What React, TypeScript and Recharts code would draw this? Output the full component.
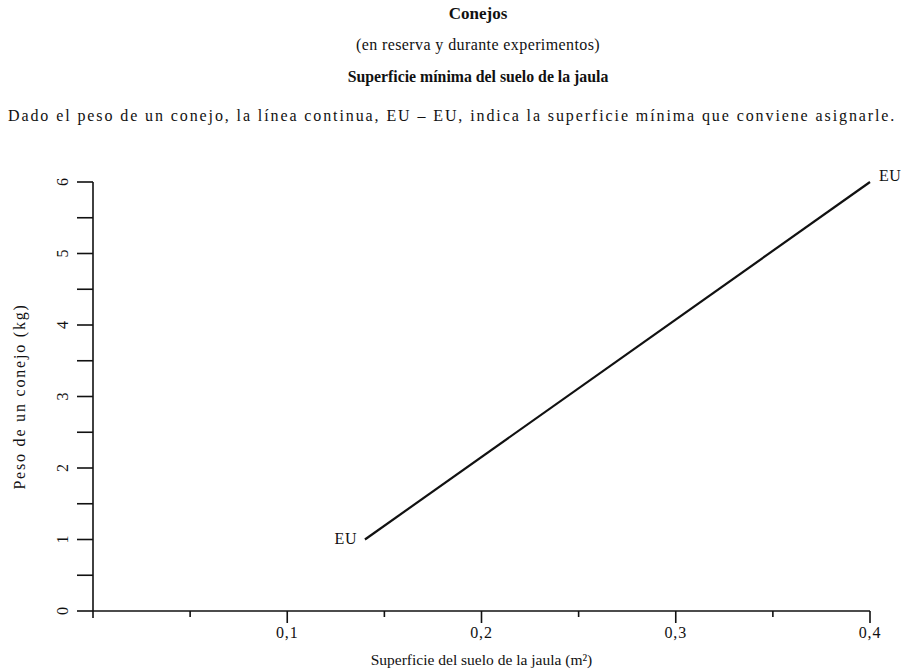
import React from "react";
import { ComposedChart, Line, XAxis, YAxis, LabelList } from "recharts";

const xTicks = [0, 0.05, 0.1, 0.15, 0.2, 0.25, 0.3, 0.35, 0.4];
const xLabeled = [0.1, 0.2, 0.3, 0.4];
const yTicks = [0, 0.5, 1, 1.5, 2, 2.5, 3, 3.5, 4, 4.5, 5, 5.5, 6];
const yLabeled = [0, 1, 2, 3, 4, 5, 6];
const surface = [0.14, 0.4];
const weight = [1, 6];
const endLabels = ["EU", "EU"];

const data = surface.map((s, i) => ({ s, w: weight[i], lab: endLabels[i] }));

const FONT = "'Liberation Serif', 'DejaVu Serif', serif";

const XTick = (props: any) => {
  const { x, y, payload } = props;
  const v = payload.value;
  const major = xLabeled.includes(v) || v === 0;
  const len = v === 0 ? 7 : major ? 12 : 6;
  return (
    <g>
      <line x1={x} y1={y} x2={x} y2={y + len} stroke="#111" strokeWidth={1.6} />
      {xLabeled.includes(v) && (
        <text x={x} y={y + 27} textAnchor="middle" fontFamily={FONT} fontSize={16} letterSpacing={0.8} fill="#111">
          {String(v).replace(".", ",")}
        </text>
      )}
    </g>
  );
};

const YTick = (props: any) => {
  const { x, y, payload } = props;
  const v = payload.value;
  return (
    <g>
      <line x1={x - 16} y1={y} x2={x} y2={y} stroke="#111" strokeWidth={1.6} />
      {yLabeled.includes(v) && (
        <text
          x={x - 31}
          y={y}
          textAnchor="middle"
          dominantBaseline="central"
          fontFamily={FONT}
          fontSize={16}
          fill="#111"
          transform={`rotate(-90 ${x - 31} ${y})`}
        >
          {v}
        </text>
      )}
    </g>
  );
};

const EndLabel = (props: any) => {
  const { x, y, index, value } = props;
  if (index === 0) {
    return (
      <text x={x - 8} y={y + 4} textAnchor="end" fontFamily={FONT} fontSize={16} letterSpacing={0.5} fill="#111">
        {value}
      </text>
    );
  }
  return (
    <text x={x + 9} y={y - 1} textAnchor="start" fontFamily={FONT} fontSize={16} letterSpacing={0.5} fill="#111">
      {value}
    </text>
  );
};

export default function App() {
  return (
    <div style={{ position: "absolute", left: 0, top: 0, width: 911, height: 672, background: "#fff", fontFamily: FONT, color: "#111" }}>
      <div style={{ position: "absolute", top: 4, left: 0, width: 956, textAlign: "center", fontSize: 17, fontWeight: "bold" }}>
        Conejos
      </div>
      <div style={{ position: "absolute", top: 36, left: 0, width: 956, textAlign: "center", fontSize: 16, letterSpacing: 0.4 }}>
        (en reserva y durante experimentos)
      </div>
      <div style={{ position: "absolute", top: 68, left: 0, width: 956, textAlign: "center", fontSize: 15.8, fontWeight: "bold" }}>
        Superficie mínima del suelo de la jaula
      </div>
      <div style={{ position: "absolute", top: 107, left: 8, whiteSpace: "nowrap", fontSize: 16, letterSpacing: 1.9 }}>
        Dado el peso de un conejo, la línea continua, EU – EU, indica la superficie mínima que conviene asignarle.
      </div>
      <ComposedChart
        width={911}
        height={672}
        data={data}
        margin={{ top: 182, right: 41, bottom: 0, left: 0 }}
        style={{ position: "absolute", left: 0, top: 0 }}
      >
        <XAxis
          type="number"
          dataKey="s"
          domain={[0, 0.4]}
          ticks={xTicks}
          interval={0}
          height={61}
          tickSize={0}
          tickMargin={0}
          tickLine={false}
          axisLine={{ stroke: "#111", strokeWidth: 1.6 }}
          tick={<XTick />}
          label={{
            value: "Superficie del suelo de la jaula (m²)",
            position: "insideBottom",
            offset: 7,
            fontFamily: FONT,
            fontSize: 15.5,
            fill: "#111",
          }}
        />
        <YAxis
          type="number"
          dataKey="w"
          domain={[0, 6]}
          ticks={yTicks}
          interval={0}
          width={93}
          tickSize={0}
          tickMargin={0}
          tickLine={false}
          axisLine={{ stroke: "#111", strokeWidth: 1.6 }}
          tick={<YTick />}
          label={{
            value: "Peso de un conejo (kg)",
            angle: -90,
            position: "insideLeft",
            offset: 19,
            fontFamily: FONT,
            fontSize: 16,
            letterSpacing: 1.8,
            fill: "#111",
            style: { textAnchor: "middle" },
          }}
        />
        <Line
          dataKey="w"
          stroke="#111"
          strokeWidth={2.2}
          dot={false}
          isAnimationActive={false}
        >
          <LabelList dataKey="lab" content={<EndLabel />} />
        </Line>
      </ComposedChart>
    </div>
  );
}
